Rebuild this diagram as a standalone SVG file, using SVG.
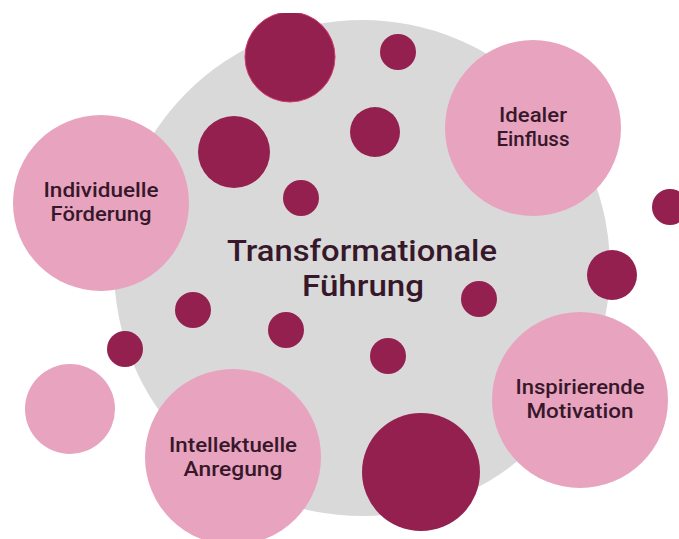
<svg xmlns="http://www.w3.org/2000/svg" width="679" height="539" viewBox="0 0 679 539">
<defs><clipPath id="top"><rect x="0" y="13" width="679" height="526"/></clipPath></defs>
<style>
.d{fill:#93204f}.p{fill:#e8a3bf}.g{fill:#d9d9d9}
text{font-family:Roboto,"Open Sans",sans-serif;fill:#37182a;text-anchor:middle;font-weight:500;lengthAdjust:spacingAndGlyphs}
.s{font-size:20.5px}.b{font-size:29.5px}
</style>
<rect width="679" height="539" fill="#fff"/>
<g id="center"><circle class="g" cx="362" cy="268" r="248"/>
<text class="b" x="362" y="261" textLength="270" lengthAdjust="spacingAndGlyphs">Transformationale</text><text class="b" x="363" y="296" textLength="122" lengthAdjust="spacingAndGlyphs">Führung</text></g>
<g id="c1" clip-path="url(#top)"><circle class="d" cx="290" cy="57" r="45" stroke="#d03a68" stroke-width="1"/></g>
<g id="c2"><circle class="d" cx="398" cy="52" r="18"/></g>
<g id="c3"><circle class="d" cx="375" cy="132" r="25"/></g>
<g id="c4"><circle class="d" cx="234" cy="152" r="36"/></g>
<g id="c5"><circle class="d" cx="301" cy="198" r="18"/></g>
<g id="c6"><circle class="d" cx="670" cy="207" r="18"/></g>
<g id="c7"><circle class="d" cx="612" cy="275" r="25"/></g>
<g id="c8"><circle class="d" cx="479" cy="299" r="18"/></g>
<g id="c9"><circle class="d" cx="193" cy="310" r="18"/></g>
<g id="c10"><circle class="d" cx="286" cy="330" r="18"/></g>
<g id="c11"><circle class="d" cx="388" cy="356" r="18"/></g>
<g id="c12"><circle class="d" cx="125" cy="349" r="18"/></g>
<g id="c13"><circle class="d" cx="421" cy="472" r="59"/></g>
<g id="c14"><circle class="p" cx="70" cy="409" r="45"/></g>
<g id="idealer"><circle class="p" cx="533" cy="128" r="88"/><text class="s" x="533" y="122" textLength="68" lengthAdjust="spacingAndGlyphs">Idealer</text><text class="s" x="533" y="146" textLength="73" lengthAdjust="spacingAndGlyphs">Einfluss</text></g>
<g id="individuelle"><circle class="p" cx="101" cy="203" r="88"/><text class="s" x="101" y="197" textLength="115" lengthAdjust="spacingAndGlyphs">Individuelle</text><text class="s" x="101" y="221" textLength="101" lengthAdjust="spacingAndGlyphs">Förderung</text></g>
<g id="inspirierende"><circle class="p" cx="580" cy="400" r="88"/><text class="s" x="580" y="394" textLength="129" lengthAdjust="spacingAndGlyphs">Inspirierende</text><text class="s" x="580" y="418" textLength="107" lengthAdjust="spacingAndGlyphs">Motivation</text></g>
<g id="intellektuelle"><circle class="p" cx="233" cy="457" r="88"/><text class="s" x="233" y="452" textLength="128" lengthAdjust="spacingAndGlyphs">Intellektuelle</text><text class="s" x="233" y="476" textLength="99" lengthAdjust="spacingAndGlyphs">Anregung</text></g>
</svg>
